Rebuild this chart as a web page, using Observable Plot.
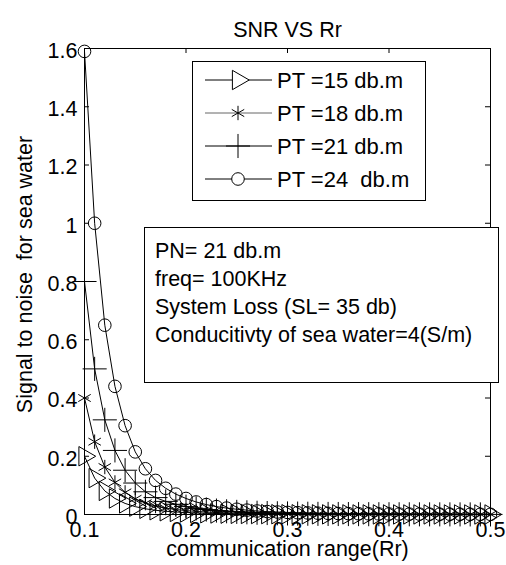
<!DOCTYPE html>
<html><head><meta charset="utf-8">
<script src="https://cdn.jsdelivr.net/npm/d3@7"></script>
<script src="https://cdn.jsdelivr.net/npm/@observablehq/plot@0.6"></script>
<style>
body{margin:0;background:#fff;}
#chart svg text{white-space:pre;}
</style>
</head><body><div id="chart"></div>
<script>
// communication range (Rr)
const rangeRr = [0.10,0.11,0.12,0.13,0.14,0.15,0.16,0.17,0.18,0.19,0.20,0.21,0.22,0.23,0.24,0.25,0.26,0.27,0.28,0.29,0.30,0.31,0.32,0.33,0.34,0.35,0.36,0.37,0.38,0.39,0.40,0.41,0.42,0.43,0.44,0.45,0.46,0.47,0.48,0.49,0.50];
const snrPT15 = [0.2,0.125,0.081,0.055,0.038,0.027,0.0195,0.0145,0.011,0.0087,0.0068,0.0053,0.0042,0.0034,0.0027,0.0022,0.0018,0.0015,0.0013,0.0011,0.0009,0.0008,0.0007,0.0006,0.0005,0.0004,0.0004,0.0003,0.0003,0.00025,0.00022,0.0002,0.00018,0.00016,0.00014,0.00012,0.00011,0.0001,0.00009,0.00008,0.00008];
const snrPT18 = [0.4,0.25,0.163,0.11,0.076,0.054,0.039,0.029,0.022,0.017,0.0135,0.0105,0.0085,0.0068,0.0055,0.0045,0.0037,0.003,0.0025,0.0021,0.0018,0.0015,0.0013,0.0011,0.001,0.0008,0.0007,0.0006,0.0006,0.0005,0.00045,0.0004,0.00035,0.0003,0.0003,0.00025,0.00022,0.0002,0.00018,0.00017,0.00015];
const snrPT21 = [0.8,0.5,0.325,0.22,0.152,0.108,0.078,0.058,0.045,0.035,0.027,0.021,0.017,0.0135,0.011,0.009,0.0075,0.006,0.005,0.0042,0.0036,0.0031,0.0026,0.0022,0.0019,0.0017,0.0015,0.0013,0.0011,0.001,0.0009,0.0008,0.0007,0.0006,0.00055,0.0005,0.00045,0.0004,0.00035,0.00035,0.0003];
const snrPT24 = [1.59,1.0,0.65,0.44,0.305,0.215,0.157,0.117,0.09,0.07,0.055,0.043,0.034,0.027,0.022,0.018,0.015,0.012,0.010,0.0085,0.0072,0.0062,0.0053,0.0045,0.0039,0.0034,0.003,0.0026,0.0023,0.002,0.0018,0.0016,0.0014,0.0013,0.0011,0.001,0.0009,0.0008,0.0007,0.0007,0.0006];
const seriesNames = ["PT =15 db.m","PT =18 db.m","PT =21 db.m","PT =24  db.m"];
const seriesSymbols = ["triangle","asterisk","plus","circle"];
const xTicks = [0.1,0.2,0.3,0.4,0.5];
const xTickLabels = ["0.1","0.2","0.3","0.4","0.5"];
const yTicks = [0,0.2,0.4,0.6,0.8,1.0,1.2,1.4,1.6];
const yTickLabels = ["0","0.2","0.4","0.6","0.8","1","1.2","1.4","1.6"];
const titleText = "SNR VS Rr";
const xLabel = "communication range(Rr)";
const yLabel = "Signal to noise  for sea water";
const noteLines = ["PN= 21 db.m","freq= 100KHz","System Loss (SL= 35 db)","Conducitivty of sea water=4(S/m)"];

const seriesValues = [snrPT15, snrPT18, snrPT21, snrPT24];
const rows = [];
seriesValues.forEach((vals, s) => vals.forEach((v, i) => rows.push({r: rangeRr[i], v, s: seriesNames[s]})));

const W = 506, H = 565, mL = 84, mR = 16, mT = 48, mB = 51;
const plotW = W - mL - mR, plotH = H - mT - mB;
const FONT = "'Liberation Sans', Arial, Helvetica, sans-serif";
const FS = 21.5;
const tickLen = 5;

const symbolSize = {triangle: 7.2, asterisk: 6.8, plus: 7.8, circle: 6.3};
const dotMarks = seriesNames.map((name, s) => Plot.dot(rows.filter(d => d.s === name), {
  x: "r", y: "v", symbol: seriesSymbols[s], r: symbolSize[seriesSymbols[s]],
  fill: "none", stroke: "black", strokeWidth: 1,
  rotate: seriesSymbols[s] === "triangle" ? 90 : 0
}));

const chart = Plot.plot({
  width: W, height: H,
  marginLeft: mL, marginRight: mR, marginTop: mT, marginBottom: mB,
  x: {domain: [0.1, 0.5], axis: null},
  y: {domain: [0, 1.6], axis: null},
  style: {fontFamily: FONT, background: "white", color: "black", overflow: "visible"},
  marks: [
    Plot.line(rows, {x: "r", y: "v", z: "s", stroke: "black", strokeWidth: 1}),
    ...dotMarks,
    Plot.frame({stroke: "black", strokeWidth: 1}),
    Plot.tickX(xTicks, {x: d => d, insetTop: plotH - tickLen, stroke: "black"}),
    Plot.tickX(xTicks, {x: d => d, insetBottom: plotH - tickLen, stroke: "black"}),
    Plot.tickY(yTicks, {y: d => d, insetRight: plotW - tickLen, stroke: "black"}),
    Plot.tickY(yTicks, {y: d => d, insetLeft: plotW - tickLen, stroke: "black"}),
    Plot.text(xTicks, {x: d => d, text: (d, i) => xTickLabels[i], frameAnchor: "bottom", textAnchor: "middle", dy: 22, fontSize: FS, fill: "black"}),
    Plot.text(yTicks, {y: d => d, text: (d, i) => yTickLabels[i], frameAnchor: "left", textAnchor: "end", dx: -7, dy: 2.5, fontSize: FS, fill: "black"}),
    Plot.text([titleText], {text: d => d, frameAnchor: "top", textAnchor: "middle", dy: -27, fontSize: FS, fill: "black"}),
    Plot.text([xLabel], {text: d => d, frameAnchor: "bottom", textAnchor: "middle", dy: 41.5, fontSize: FS, fill: "black"}),
    Plot.text([yLabel], {text: d => d, frameAnchor: "left", textAnchor: "middle", rotate: -90, dx: -59, dy: -7, fontSize: FS, fill: "black"})
  ]
});
document.getElementById("chart").appendChild(chart);

// Legend box (top right inside axes)
const svg = d3.select(chart);
const LFS = 22;
const lg = svg.append("g").attr("font-family", FONT).attr("font-size", LFS).attr("text-anchor", "start");
lg.append("rect").attr("x", 192.5).attr("y", 61.5).attr("width", 233).attr("height", 139)
  .attr("fill", "white").attr("stroke", "black");
const rowY = [80, 113, 146, 179];
const d3sym = {triangle: d3.symbolTriangle, asterisk: d3.symbolAsterisk, plus: d3.symbolPlus, circle: d3.symbolCircle};
seriesNames.forEach((name, i) => {
  const y = rowY[i];
  lg.append("line").attr("x1", 205).attr("x2", 272).attr("y1", y).attr("y2", y)
    .attr("stroke", i === 1 ? "#666" : "black").attr("stroke-width", 1);
  const sym = seriesSymbols[i];
  const rr = symbolSize[sym];
  lg.append("path").attr("d", d3.symbol(d3sym[sym], Math.PI * rr * rr)())
    .attr("transform", `translate(238,${y})` + (sym === "triangle" ? " rotate(90)" : ""))
    .attr("fill", sym === "circle" || sym === "triangle" ? "white" : "none").attr("stroke", "black");
  lg.append("text").attr("x", 277).attr("y", y).attr("dy", "0.35em").attr("text-anchor", "start").text(name);
});

// Annotation box
const ag = svg.append("g").attr("font-family", FONT).attr("font-size", FS).attr("text-anchor", "start");
ag.append("rect").attr("x", 144.5).attr("y", 227.5).attr("width", 354).attr("height", 155)
  .attr("fill", "white").attr("stroke", "black");
noteLines.forEach((t, i) => {
  ag.append("text").attr("x", 155).attr("y", 258 + i * 28).attr("text-anchor", "start").text(t);
});
</script>
</body></html>
